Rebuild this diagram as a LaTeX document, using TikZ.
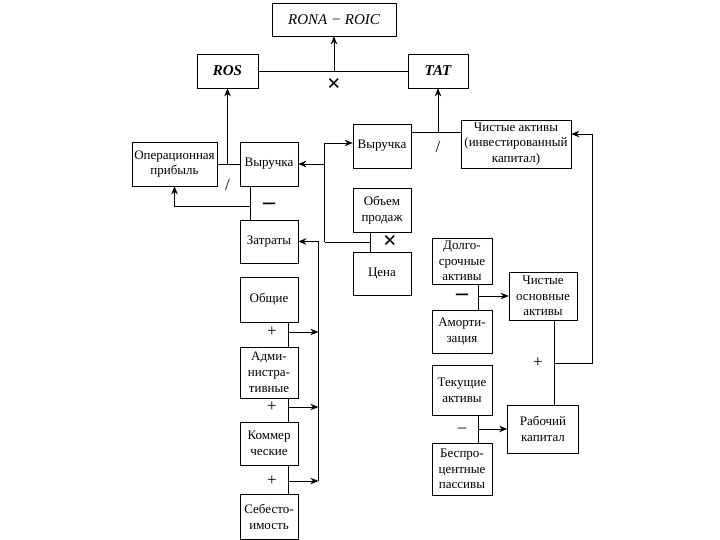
\documentclass[tikz,border=0pt]{standalone}
\usepackage{fontspec}
\setmainfont{Liberation Serif}
\usetikzlibrary{arrows.meta, shapes}

\begin{document}
\begin{tikzpicture}[x=1pt, y=-1pt, node distance=60pt, line width=0.7pt]
\tikzstyle{block} = [rectangle, draw, align=center, inner sep=0pt,
    minimum width=58pt, minimum height=44pt, font=\fontsize{13}{15.8}\selectfont]
\tikzstyle{index} = [block, minimum height=34pt, font=\fontsize{15}{17}\selectfont\itshape]
\tikzstyle{ratio} = [index, font=\fontsize{15}{17}\selectfont\bfseries\itshape]
\tikzstyle{line} = [draw, -{Stealth[length=8pt, width=6.5pt]}]
\tikzstyle{sign} = [inner sep=0pt, font=\fontsize{17}{17}\selectfont]
\tikzstyle{boldsign} = [sign, font=\fontsize{24}{24}\selectfont\bfseries]

\useasboundingbox (0,0) rectangle (720,540);

 \node [index, minimum width=124pt, minimum height=33pt] (rona) at (334,19.5) {RONA − ROIC};
 \node [ratio, minimum width=61pt] (ros) at (227.5,71) {ROS};
 \node [ratio, minimum width=60pt] (tat) at (438,71) {TAT};

 % left branch
 \node [block, minimum width=85pt] (opprofit) at (174.5,164) {Операционная\\прибыль};
 \node [block, right of=opprofit, node distance=94.5pt] (rev1) {Выручка};
 \node [block, below of=rev1, node distance=77.5pt, minimum height=43pt] (costs) {Затраты};
 \node [block, below of=costs, node distance=58pt, minimum height=45pt] (general) {Общие};
 \node [block, below of=general, node distance=73pt, minimum height=51pt] (admin) {Адми-\\нистра-\\тивные};
 \node [block, below of=admin, node distance=71pt, minimum height=43pt] (comm) {Коммер\\ческие};
 \node [block, below of=comm, node distance=73.5pt, minimum height=45pt] (cogs) {Себесто-\\имость};

 % middle branch
 \node [block] (rev2) at (382,146) {Выручка};
 \node [block, below of=rev2, node distance=64pt] (volume) {Объем\\продаж};
 \node [block, below of=volume, node distance=63.5pt, minimum height=43pt] (price) {Цена};

 % right branch
 \node [block, minimum width=110pt, minimum height=48pt] (netassets) at (516,144) {Чистые активы\\(инвестированный\\капитал)};
 \node [block, minimum width=60pt, minimum height=46pt] (ltassets) at (462,261) {Долго-\\срочные\\активы};
 \node [block, below of=ltassets, node distance=70.5pt, minimum width=60pt, minimum height=43pt] (depr) {Аморти-\\зация};
 \node [block, below of=depr, node distance=58.5pt, minimum width=60pt, minimum height=50pt] (curassets) {Текущие\\активы};
 \node [block, below of=curassets, node distance=79pt, minimum width=60pt, minimum height=52pt] (nonint) {Беспро-\\центные\\пассивы};
 \node [block, minimum width=68pt, minimum height=48pt] (netfixed) at (543,296) {Чистые\\основные\\активы};
 \node [block, below of=netfixed, node distance=133pt, minimum width=71pt, minimum height=48pt] (wc) {Рабочий\\капитал};

 % ROS x TAT
 \draw (ros) -- (tat);
 \coordinate (x1) at (rona |- ros);
 \path [line] (x1) -- (rona);
 \node [boldsign, below of=x1, node distance=14pt] (mul1) {×};

 % operating profit / revenue
 \draw (opprofit) -- (rev1);
 \coordinate (x2) at (ros |- opprofit);
 \path [line] (x2) -- (ros);
 \node [sign, below of=x2, node distance=21pt] (div1) {/};

 % revenue - costs
 \node [boldsign, below of=rev1, node distance=42pt] (sub1) {–};
 \coordinate (c1) at ([xshift=-19pt]rev1.south);
 \draw (c1) -- (c1 |- costs.north);
 \path [line] (c1 |- sub1) -| (opprofit.south);

 % costs = sum
 \coordinate (bus) at ([xshift=20pt]costs.east);
 \node [sign, below of=general, node distance=32.5pt, xshift=3pt] (plus1) {+};
 \node [sign, below of=admin, node distance=34.5pt, xshift=3pt] (plus2) {+};
 \node [sign, below of=comm, node distance=37.5pt, xshift=3pt] (plus3) {+};
 \coordinate (c2) at ([xshift=19pt]general.south);
 \coordinate (c3) at ([xshift=19pt]admin.south);
 \coordinate (c4) at ([xshift=19pt]comm.south);
 \draw (c2) -- (c2 |- admin.north);
 \draw (c3) -- (c3 |- comm.north);
 \draw (c4) -- (c4 |- cogs.north);
 \path [line] (c2 |- plus1) -- (bus |- plus1);
 \path [line] (c3 |- plus2) -- (bus |- plus2);
 \path [line] (c4 |- plus3) -- (bus |- plus3);
 \path [line] (bus |- plus3) |- (costs.east);

 % volume x price
 \coordinate (c5) at ([xshift=-12pt]volume.south);
 \draw (c5) -- (c5 |- price.north);
 \node [boldsign, below of=volume, node distance=32pt, xshift=8pt] (mul2) {×};
 \coordinate (c6) at ([xshift=-28pt]rev2.west);
 \draw (c5 |- mul2) -- (c6 |- mul2);
 \path [line] (c6 |- mul2) |- ([yshift=3pt]rev2.west);
 \path [line] (c6 |- rev1) -- (rev1.east);

 % revenue / net assets
 \coordinate (c7) at ([yshift=14pt]rev2.east);
 \draw (c7) -- (c7 -| netassets.west);
 \coordinate (x3) at (c7 -| tat);
 \path [line] (x3) -- (tat);
 \node [sign, below of=x3, node distance=15pt] (div2) {/};

 % net fixed assets
 \node [boldsign, below of=ltassets, node distance=36pt] (sub2) {–};
 \coordinate (c8) at ([xshift=16pt]ltassets.south);
 \draw (c8) -- (c8 |- depr.north);
 \path [line] (c8 |- netfixed) -- (netfixed.west);

 % working capital
 \node [sign, below of=curassets, node distance=40pt] (sub3) {–};
 \coordinate (c9) at ([xshift=16pt]curassets.south);
 \draw (c9) -- (c9 |- nonint.north);
 \path [line] (c9 |- wc) -- (wc.west);

 % net assets = sum
 \node [sign, below of=netfixed, node distance=67pt, xshift=-5pt] (plus4) {+};
 \coordinate (c10) at ([xshift=11pt]netfixed.south);
 \coordinate (c11) at ([xshift=21pt, yshift=10pt]netassets.east);
 \draw (c10) -- (c10 |- wc.north);
 \path [line] (c10 |- plus4) -| (c11) -- (c11 -| netassets.east);
\end{tikzpicture}
\end{document}
